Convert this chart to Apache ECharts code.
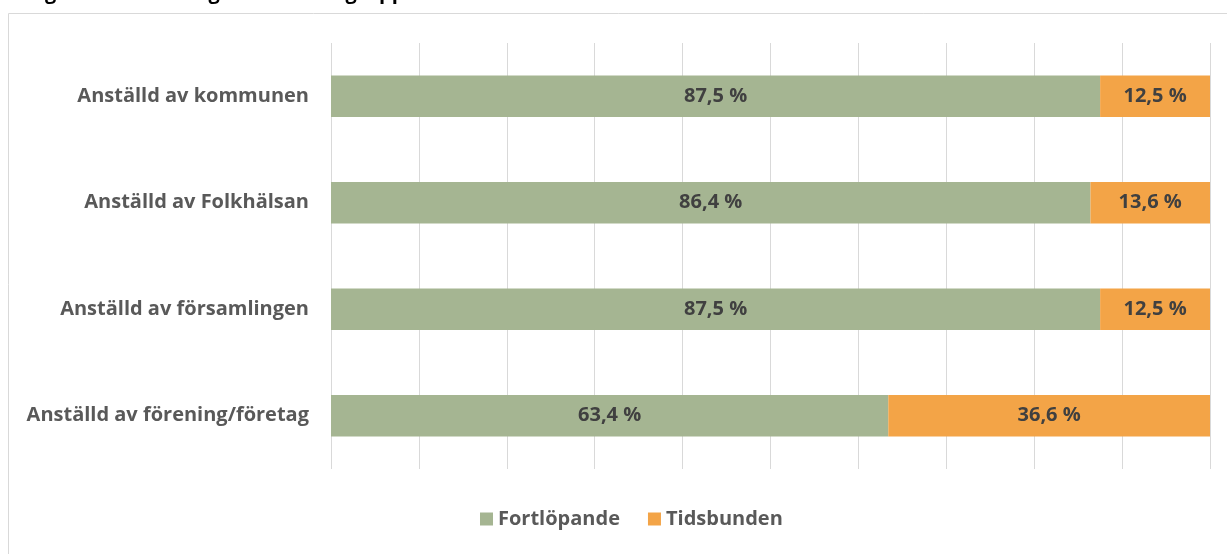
<!DOCTYPE html>
<html>
<head>
<meta charset="utf-8">
<script src="https://cdn.jsdelivr.net/npm/echarts@6/dist/echarts.min.js"></script>
<style>
  html, body { margin: 0; padding: 0; background: #fff; }
  #main { width: 1227px; height: 554px; }
</style>
</head>
<body>
<div id="main"></div>
<script>
// data
const categories = [
  "Anställd av kommunen",
  "Anställd av Folkhälsan",
  "Anställd av församlingen",
  "Anställd av förening/företag"
];
const fortlopande = [87.5, 86.4, 87.5, 63.4];
const tidsbunden = [12.5, 13.6, 12.5, 36.6];
const seriesNames = ["Fortlöpande", "Tidsbunden"];
const titleText = "Figur 5. Anställningsform bland gruppledarna";

const font = "'Open Sans', sans-serif";
const fmt = p => p.value.toFixed(1).replace(".", ",") + " %";

const myChart = echarts.init(document.getElementById("main"));
myChart.setOption({
  animation: false,
  graphic: [
    {
      // title is cut off at the top of the picture, only descenders show
      type: "text",
      x: 28,
      y: -17,
      style: {
        text: titleText,
        fontFamily: font,
        fontSize: 20,
        fontWeight: "bold",
        fill: "#000"
      },
      silent: true
    },
    {
      type: "rect",
      shape: { x: 8.5, y: 13.5, width: 1240, height: 560 },
      style: { fill: "none", stroke: "#d9d9d9", lineWidth: 1 },
      silent: true
    }
  ],
  grid: { left: 331, right: 17, top: 43, bottom: 85 },
  legend: {
    bottom: 20,
    left: 475,
    itemWidth: 13,
    itemHeight: 13,
    itemGap: 28,
    icon: "rect",
    textStyle: { fontFamily: font, fontSize: 20, fontWeight: "bold", color: "#595959" },
    data: seriesNames
  },
  xAxis: {
    type: "value",
    min: 0,
    max: 100,
    interval: 10,
    axisLabel: { show: false },
    axisLine: { show: false },
    axisTick: { show: false },
    splitLine: { lineStyle: { color: "#d9d9d9", width: 1 } }
  },
  yAxis: {
    type: "category",
    inverse: true,
    data: categories,
    axisLine: { show: false },
    axisTick: { show: false },
    axisLabel: { margin: 22, fontFamily: font, fontSize: 20, fontWeight: "bold", color: "#595959" }
  },
  series: [
    {
      name: seriesNames[0],
      type: "bar",
      stack: "total",
      data: fortlopande,
      barCategoryGap: "61%",
      itemStyle: { color: "#a5b592" },
      label: { show: true, position: "inside", formatter: fmt, fontFamily: font, fontSize: 20, fontWeight: "bold", color: "#404040" }
    },
    {
      name: seriesNames[1],
      type: "bar",
      stack: "total",
      data: tidsbunden,
      barCategoryGap: "61%",
      itemStyle: { color: "#f3a447" },
      label: { show: true, position: "inside", formatter: fmt, fontFamily: font, fontSize: 20, fontWeight: "bold", color: "#404040" }
    }
  ]
});
</script>
</body>
</html>
